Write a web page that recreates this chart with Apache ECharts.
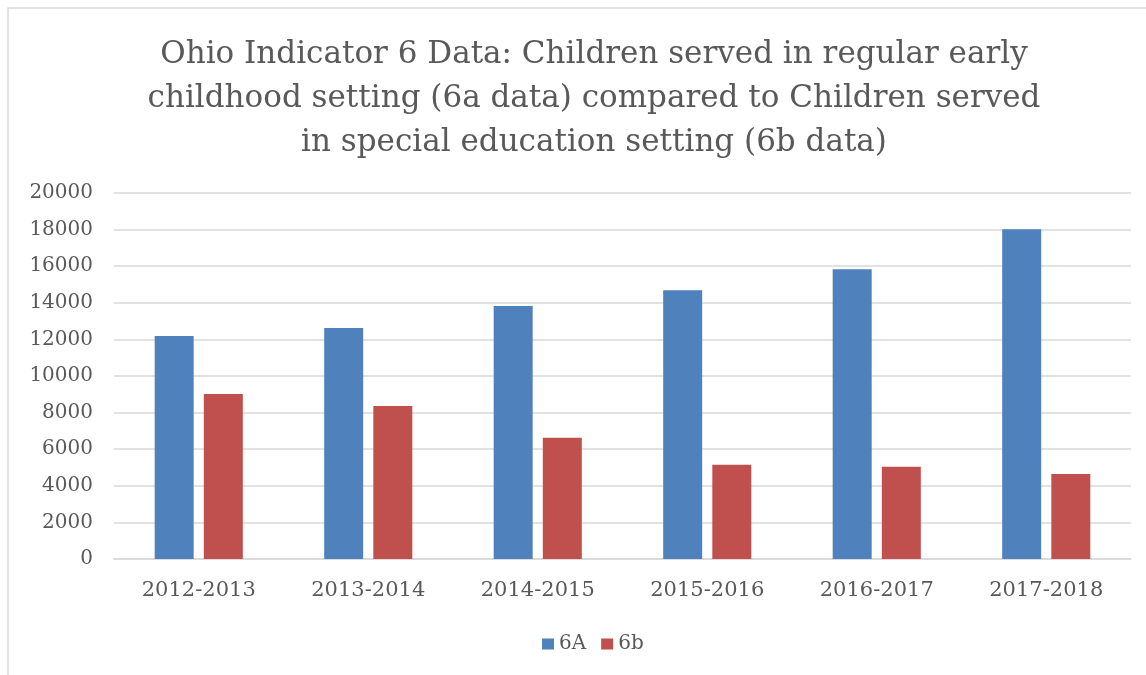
<!DOCTYPE html>
<html>
<head>
<meta charset="utf-8">
<script src="https://cdn.jsdelivr.net/npm/echarts@6/dist/echarts.min.js"></script>
<style>
  html, body { margin: 0; padding: 0; background: #fff; }
  #chart { width: 1146px; height: 675px; }
</style>
</head>
<body>
<div id="chart"></div>
<script>
// school years on the x axis
const years = ['2012-2013', '2013-2014', '2014-2015', '2015-2016', '2016-2017', '2017-2018']
// 6a: regular early childhood setting
const data6A = [12180, 12620, 13820, 14690, 15840, 18020]
// 6b: special education setting
const data6b = [9020, 8360, 6620, 5150, 5040, 4650]

const textColor = '#595959'
const fontFamily = 'DejaVu Serif'

const chart = echarts.init(document.getElementById('chart'))
chart.setOption({
  backgroundColor: '#fff',
  animation: false,
  graphic: [{
    type: 'rect',
    shape: { x: 8, y: 8, width: 1200, height: 800 },
    style: { fill: 'none', stroke: '#d9d9d9', lineWidth: 1.5 }
  }],
  title: {
    text: 'Ohio Indicator 6 Data: Children served in regular early\nchildhood setting (6a data) compared to Children served\nin special education setting (6b data)',
    left: 589,
    textAlign: 'center',
    top: 28,
    textStyle: {
      color: textColor,
      fontFamily: fontFamily,
      fontWeight: 'normal',
      fontSize: 31,
      lineHeight: 44
    }
  },
  legend: {
    data: ['6A', '6b'],
    top: 629,
    left: 537,
    icon: 'rect',
    itemWidth: 12,
    itemHeight: 11,
    itemGap: 15,
    textStyle: { color: textColor, fontFamily: fontFamily, fontSize: 20 }
  },
  grid: {
    left: 114,
    right: 15,
    top: 193,
    bottom: 116
  },
  xAxis: {
    type: 'category',
    data: years,
    axisLine: { lineStyle: { color: '#d9d9d9', width: 1.5 } },
    axisTick: { show: false },
    axisLabel: { color: textColor, fontFamily: fontFamily, fontSize: 21, margin: 21 }
  },
  yAxis: {
    type: 'value',
    min: 0,
    max: 20000,
    interval: 2000,
    axisLine: { show: false },
    axisTick: { show: false },
    splitLine: { lineStyle: { color: '#d9d9d9', width: 1.5 } },
    axisLabel: {
      color: textColor,
      fontFamily: fontFamily,
      fontSize: 20,
      margin: 21,
      formatter: v => String(v)
    }
  },
  series: [
    {
      name: '6A',
      type: 'bar',
      data: data6A,
      barWidth: 39,
      barGap: '26%',
      itemStyle: { color: '#4f81bd' }
    },
    {
      name: '6b',
      type: 'bar',
      data: data6b,
      barWidth: 39,
      itemStyle: { color: '#c0504d' }
    }
  ]
})
</script>
</body>
</html>
